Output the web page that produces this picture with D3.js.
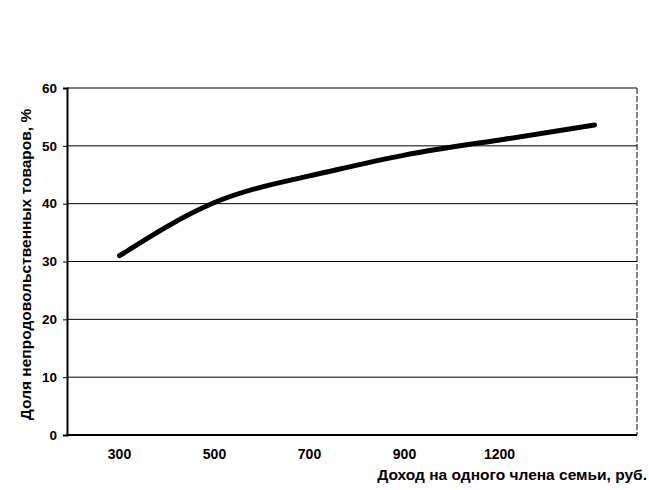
<!DOCTYPE html>
<html>
<head>
<meta charset="utf-8">
<script src="https://cdn.jsdelivr.net/npm/d3@7"></script>
<style>
  html, body { margin: 0; padding: 0; background: #fff; }
  svg { display: block; }
  text { font-family: "Liberation Sans", Arial, sans-serif; fill: #000; }
</style>
</head>
<body>
<svg id="chart" width="649" height="490"></svg>
<script>
const categories = ["300", "500", "700", "900", "1200", ""];
const shareValues = [31, 40.2, 44.8, 48.4, 51, 53.6];
const yTicks = [0, 10, 20, 30, 40, 50, 60];
const yTitle = "Доля непродовольственных товаров, %";
const xTitle = "Доход на одного члена семьи, руб.";

const svg = d3.select("#chart");
const plot = { left: 67, right: 637, top: 88, bottom: 435 };

const x = d3.scaleBand().domain(categories.map((c, i) => i)).range([plot.left + 5, plot.right + 5]);
const xc = i => x(i) + x.bandwidth() / 2;
const y = d3.scaleLinear().domain([0, 60]).range([plot.bottom, plot.top]);

// gridlines
svg.append("g").selectAll("line").data(yTicks.filter(t => t > 0)).join("line")
  .attr("x1", plot.left).attr("x2", plot.right)
  .attr("y1", d => y(d)).attr("y2", d => y(d))
  .attr("stroke", "#000").attr("stroke-width", 1);

// right border (thin)
svg.append("line")
  .attr("x1", plot.right).attr("x2", plot.right)
  .attr("y1", y(60)).attr("y2", y(0))
  .attr("stroke", "#000").attr("stroke-width", 1).attr("stroke-dasharray", "6,2");

// y axis
const yAxis = d3.axisLeft(y).tickValues(yTicks).tickSize(4).tickPadding(6).tickFormat(d3.format("d"));
const gy = svg.append("g").attr("transform", `translate(${plot.left},0)`).call(yAxis);
gy.select(".domain").attr("stroke", "#000").attr("stroke-width", 2);
gy.selectAll(".tick line").attr("stroke", "#000");
gy.selectAll(".tick text").attr("font-size", 13.5).attr("font-weight", "bold")
  .style("font-family", "'Liberation Sans', Arial, sans-serif");

// x axis
const xAxis = d3.axisBottom(x).tickSize(0).tickPadding(14).tickFormat(i => categories[i]);
const gx = svg.append("g").attr("transform", `translate(0,${plot.bottom})`).call(xAxis);
gx.select(".domain").remove();
svg.append("line")
  .attr("x1", plot.left).attr("x2", plot.right)
  .attr("y1", plot.bottom).attr("y2", plot.bottom)
  .attr("stroke", "#000").attr("stroke-width", 2);
gx.selectAll(".tick text").attr("font-size", 14).attr("font-weight", "bold")
  .style("font-family", "'Liberation Sans', Arial, sans-serif");

// line
const line = d3.line()
  .x((d, i) => xc(i))
  .y(d => y(d))
  .curve(d3.curveNatural);
svg.append("path").datum(shareValues)
  .attr("d", line)
  .attr("fill", "none").attr("stroke", "#000")
  .attr("stroke-width", 5).attr("stroke-linecap", "round");

// axis titles
svg.append("text")
  .attr("transform", `translate(31,${(plot.top + plot.bottom) / 2 + 3}) rotate(-90)`)
  .attr("text-anchor", "middle")
  .attr("font-size", 15.5).attr("font-weight", "bold")
  .text(yTitle);

svg.append("text")
  .attr("x", 647).attr("y", 480)
  .attr("text-anchor", "end")
  .attr("font-size", 15.5).attr("font-weight", "bold")
  .text(xTitle);
</script>
</body>
</html>
